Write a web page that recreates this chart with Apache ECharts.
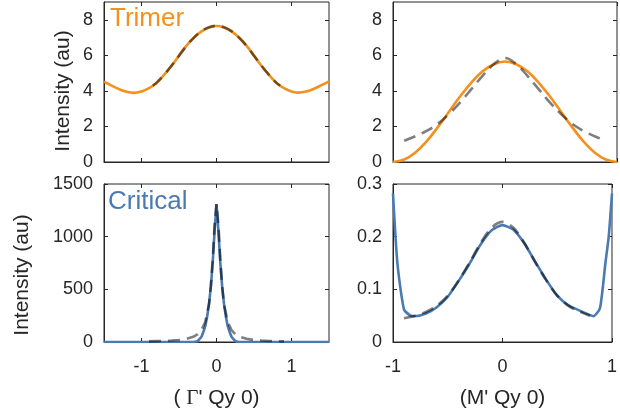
<!DOCTYPE html>
<html>
<head>
<meta charset="utf-8">
<script src="https://cdn.jsdelivr.net/npm/echarts@6/dist/echarts.min.js"></script>
<style>
  html, body { margin: 0; padding: 0; background: #ffffff; }
  #chart { width: 620px; height: 420px; }
</style>
</head>
<body>
<div id="chart"></div>
<script>
// ---- Trimer, cut along (Γ' Qy 0) ----
const trimerGammaX = [-1.5, -1.4, -1.3, -1.2, -1.1, -1.0, -0.9, -0.8, -0.7, -0.6, -0.5, -0.4, -0.3, -0.2, -0.1, 0,
  0.1, 0.2, 0.3, 0.4, 0.5, 0.6, 0.7, 0.8, 0.9, 1.0, 1.1, 1.2, 1.3, 1.4, 1.5];
const trimerGammaY = [4.52, 4.30, 4.10, 3.95, 3.89, 3.97, 4.15, 4.45, 4.90, 5.40, 5.98, 6.55, 7.00, 7.35, 7.57, 7.65,
  7.57, 7.35, 7.00, 6.55, 5.98, 5.40, 4.90, 4.45, 4.15, 3.97, 3.90, 3.97, 4.12, 4.32, 4.54];
const trimerGammaFitX = [-0.85, -0.8, -0.7, -0.6, -0.5, -0.4, -0.3, -0.2, -0.1, 0, 0.1, 0.2, 0.3, 0.4, 0.5, 0.6, 0.7, 0.8, 0.85];
const trimerGammaFitY = [4.30, 4.45, 4.90, 5.42, 5.98, 6.53, 7.00, 7.36, 7.58, 7.66, 7.58, 7.36, 7.00, 6.53, 5.98, 5.42, 4.90, 4.45, 4.30];

// ---- Trimer, cut along (M' Qy 0) ----
const trimerMX = [-1.0, -0.9, -0.8, -0.7, -0.6, -0.5, -0.4, -0.3, -0.2, -0.1, 0, 0.1, 0.2, 0.3, 0.4, 0.5, 0.6, 0.7, 0.8, 0.9, 1.0];
const trimerMY = [0, 0.14, 0.54, 1.16, 1.96, 2.83, 3.70, 4.47, 5.10, 5.50, 5.65, 5.50, 5.10, 4.47, 3.70, 2.83, 1.96, 1.16, 0.54, 0.14, 0];
const trimerMFitX = [-0.9, -0.8, -0.7, -0.6, -0.5, -0.4, -0.3, -0.2, -0.1, 0, 0.1, 0.2, 0.3, 0.4, 0.5, 0.6, 0.7, 0.8, 0.9];
const trimerMFitY = [1.20, 1.45, 1.75, 2.15, 2.70, 3.35, 4.10, 4.85, 5.50, 5.85, 5.50, 4.85, 4.10, 3.35, 2.70, 2.15, 1.75, 1.45, 1.20];

// ---- Critical, cut along (Γ' Qy 0) ----
const criticalGammaX = [-1.5, -0.3, -0.25, -0.2, -0.175, -0.15, -0.125, -0.1, -0.075, -0.05, -0.025, 0,
  0.025, 0.05, 0.075, 0.1, 0.125, 0.15, 0.175, 0.2, 0.25, 0.3, 1.5];
const criticalGammaY = [0, 0, 8, 50, 95, 150, 240, 360, 530, 760, 1060, 1310,
  1060, 760, 530, 360, 240, 150, 95, 50, 8, 0, 0];
const criticalGammaFitX = [-0.9, -0.8, -0.7, -0.6, -0.5, -0.4, -0.3, -0.25, -0.2, -0.15, -0.1, -0.075, -0.05, -0.025, 0,
  0.025, 0.05, 0.075, 0.1, 0.15, 0.2, 0.25, 0.3, 0.4, 0.5, 0.6, 0.7, 0.8, 0.9];
const criticalGammaFitY = [6, 8, 10, 14, 19, 30, 52, 75, 113, 190, 360, 530, 790, 1120, 1310,
  1120, 790, 530, 360, 190, 113, 75, 52, 30, 19, 14, 10, 8, 6];

// ---- Critical, cut along (M' Qy 0) ----
const criticalMX = [-1.0, -0.96, -0.9, -0.84, -0.8, -0.7, -0.6, -0.5, -0.4, -0.3, -0.2, -0.1, 0,
  0.1, 0.2, 0.3, 0.4, 0.5, 0.6, 0.7, 0.8, 0.83, 0.89, 0.94, 0.97, 1.0];
const criticalMY = [0.282, 0.150, 0.062, 0.050, 0.049, 0.054, 0.066, 0.086, 0.116, 0.149, 0.185, 0.212, 0.222,
  0.213, 0.187, 0.152, 0.118, 0.088, 0.070, 0.060, 0.051, 0.049, 0.064, 0.150, 0.200, 0.282];
const criticalMFitX = [-0.9, -0.8, -0.7, -0.6, -0.5, -0.4, -0.3, -0.2, -0.1, 0, 0.1, 0.2, 0.3, 0.4, 0.5, 0.6, 0.7, 0.8];
const criticalMFitY = [0.045, 0.050, 0.057, 0.069, 0.088, 0.117, 0.151, 0.188, 0.217, 0.228, 0.217, 0.188, 0.151, 0.117, 0.088, 0.069, 0.058, 0.050];

// ---- tick labels ----
const gammaTicks = [-1, 0, 1];
const mTicks = [-1, 0, 1];
const trimerTicks = [0, 2, 4, 6, 8];
const criticalGammaTicks = [0, 500, 1000, 1500];
const criticalMTicks = [0, 0.1, 0.2, 0.3];

const FONT = 'Liberation Sans';
const INK = '#262626';
const ORANGE = '#F4911E';
const BLUE = '#4A7AB2';
const FIT = 'rgba(0,0,0,0.5)';

const zip = (xs, ys) => xs.map((x, i) => [x, ys[i]]);
const plain = (v) => String(v);

const grids = [
  { left: 104, top: 2, width: 225, height: 160 },
  { left: 393, top: 2, width: 224, height: 160 },
  { left: 104, top: 184, width: 225, height: 158 },
  { left: 393, top: 184, width: 224, height: 158 }
].map(g => Object.assign(g, { show: true, borderColor: INK, borderWidth: 1, containLabel: false }));

const tick = (vals) => ({ inside: true, length: 4, customValues: vals, lineStyle: { color: INK, width: 1 } });

function xAxes(gi, min, max, ticks, showLabels, name) {
  const main = {
    type: 'value', gridIndex: gi, min, max, position: 'bottom',
    axisLine: { onZero: false, lineStyle: { color: INK } },
    axisTick: tick(ticks),
    splitLine: { show: false },
    axisLabel: {
      show: showLabels, customValues: ticks, margin: 16, formatter: plain,
      color: INK, fontFamily: FONT, fontSize: 18
    }
  };
  if (name) {
    Object.assign(main, {
      name, nameLocation: 'middle', nameGap: 46,
      nameTextStyle: {
        color: INK, fontFamily: FONT, fontSize: 21,
        rich: {
          s: { fontFamily: FONT, fontSize: 21, color: INK },
          g: { fontFamily: 'Liberation Serif', fontSize: 21, color: INK }
        }
      }
    });
  }
  const top = {
    type: 'value', gridIndex: gi, min, max, position: 'top',
    axisLine: { show: false, onZero: false }, axisTick: tick(ticks),
    axisLabel: { show: false }, splitLine: { show: false }
  };
  return [main, top];
}

function yAxes(gi, min, max, ticks) {
  const main = {
    type: 'value', gridIndex: gi, min, max, position: 'left',
    axisLine: { show: true, onZero: false, lineStyle: { color: INK } },
    axisTick: tick(ticks),
    splitLine: { show: false },
    axisLabel: {
      customValues: ticks, margin: 11, formatter: plain,
      color: INK, fontFamily: FONT, fontSize: 18
    }
  };
  const right = {
    type: 'value', gridIndex: gi, min, max, position: 'right',
    axisLine: { show: false, onZero: false }, axisTick: tick(ticks),
    axisLabel: { show: false }, splitLine: { show: false }
  };
  return [main, right];
}

const xAxis = [
  ...xAxes(0, -1.5, 1.5, gammaTicks, false),
  ...xAxes(1, -1, 1, mTicks, false),
  ...xAxes(2, -1.5, 1.5, gammaTicks, true, "{s|(} {g|Γ}{s|' Qy 0)}"),
  ...xAxes(3, -1, 1, mTicks, true, "(M' Qy 0)")
];
const yAxis = [
  ...yAxes(0, 0, 9, trimerTicks),
  ...yAxes(1, 0, 9, trimerTicks),
  ...yAxes(2, 0, 1500, criticalGammaTicks),
  ...yAxes(3, 0, 0.3, criticalMTicks)
];

function curve(gi, xs, ys, color, smooth) {
  return {
    type: 'line', xAxisIndex: gi * 2, yAxisIndex: gi * 2,
    data: zip(xs, ys), showSymbol: false, smooth: smooth, silent: true,
    lineStyle: { color, width: 2.6 }, z: 2
  };
}
function fit(gi, xs, ys, smooth) {
  return {
    type: 'line', xAxisIndex: gi * 2, yAxisIndex: gi * 2,
    data: zip(xs, ys), showSymbol: false, smooth: smooth, silent: true,
    lineStyle: { color: FIT, width: 2.6, type: [12, 7] }, z: 3
  };
}

const series = [
  curve(0, trimerGammaX, trimerGammaY, ORANGE, 0.4),
  fit(0, trimerGammaFitX, trimerGammaFitY, 0.4),
  curve(1, trimerMX, trimerMY, ORANGE, 0.4),
  fit(1, trimerMFitX, trimerMFitY, 0.4),
  curve(2, criticalGammaX, criticalGammaY, BLUE, false),
  fit(2, criticalGammaFitX, criticalGammaFitY, false),
  curve(3, criticalMX, criticalMY, BLUE, 0.2),
  fit(3, criticalMFitX, criticalMFitY, 0.3)
];

const yName = (x, y) => ({
  type: 'text', x, y, rotation: Math.PI / 2,
  style: {
    text: 'Intensity (au)', fill: INK, font: '21px "Liberation Sans"',
    align: 'center', verticalAlign: 'middle'
  }
});
const tag = (x, y, text, color) => ({
  type: 'text', x, y,
  style: { text, fill: color, font: '26px "Liberation Sans"', align: 'left', verticalAlign: 'top' }
});

const chart = echarts.init(document.getElementById('chart'), null, { renderer: 'canvas' });
chart.setOption({
  animation: false,
  backgroundColor: '#ffffff',
  grid: grids,
  xAxis,
  yAxis,
  series,
  graphic: [
    yName(63, 91),
    yName(22, 275),
    tag(110, 6, 'Trimer', ORANGE),
    tag(108, 189, 'Critical', BLUE)
  ]
});
</script>
</body>
</html>
